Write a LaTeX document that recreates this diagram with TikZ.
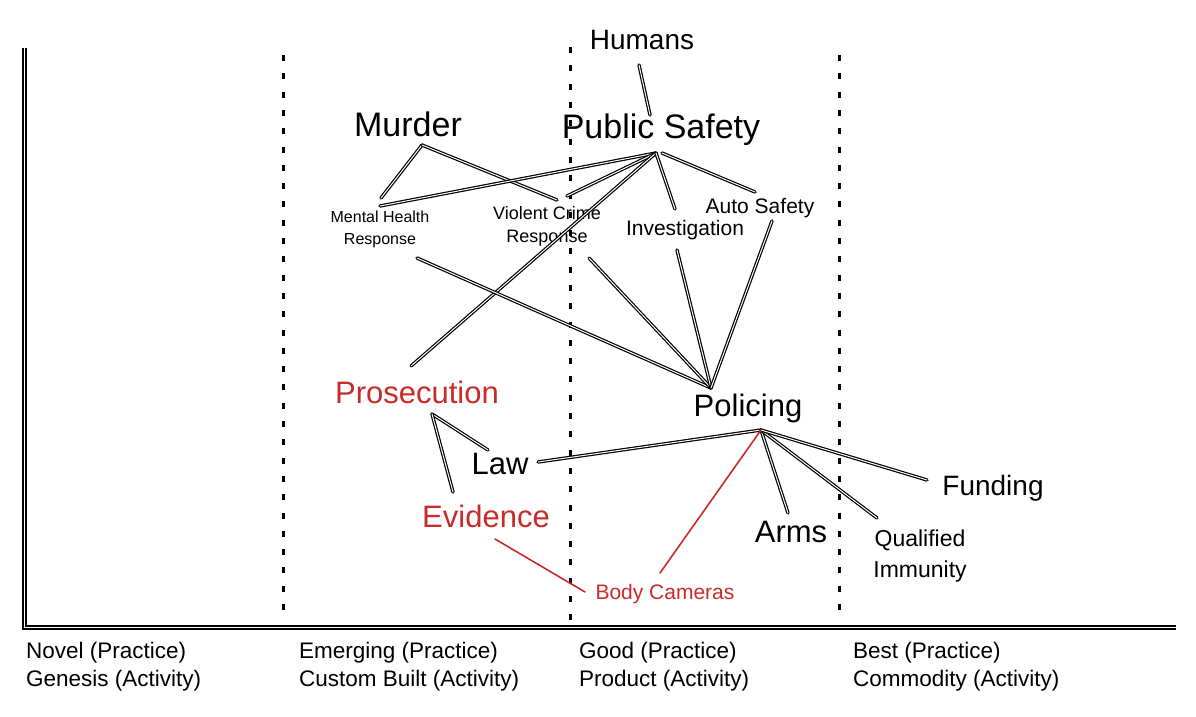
\documentclass[tikz,border=0pt]{standalone}
\usepackage{fontspec}
\setmainfont{Liberation Sans}
\definecolor{exred}{HTML}{C92A2A}
\tikzset{
  lbl/.style={inner sep=0pt, text=black},
  rlbl/.style={inner sep=0pt, text=exred},
  link/.style={draw=black, double=white, double distance=1.0pt, line width=1.2pt, line cap=round},
  rlink/.style={draw=exred, line width=1.6pt, line cap=round},
  gridline/.style={line width=3pt, dash pattern=on 6pt off 12.3pt},
  axisline/.style={draw=black, double=white, double distance=1.4pt, line width=1.4pt},
  szA/.style={font=\fontsize{34}{40}\selectfont},
  szB/.style={font=\fontsize{31}{36}\selectfont},
  szC/.style={font=\fontsize{28}{32}\selectfont},
  szD/.style={font=\fontsize{21}{25}\selectfont},
  szE/.style={font=\fontsize{18}{23}\selectfont},
  szF/.style={font=\fontsize{16}{22}\selectfont},
  szQ/.style={font=\fontsize{23}{31}\selectfont},
  szX/.style={font=\fontsize{22.5}{28}\selectfont},
}
\begin{document}
\begin{tikzpicture}[x=1pt,y=-1pt]
\useasboundingbox (0,0) rectangle (1196,716);
% axes
\coordinate (axTop) at (24.5,48);
\coordinate (axOrig) at (24.5,627.5);
\coordinate (axRight) at (1176,627.5);
\draw[axisline] (axTop) -- (axOrig) -- (axRight);
% evolution separators
\coordinate (g1t) at (283,55);  \coordinate (g1b) at (283,620);
\coordinate (g2t) at (570,47);  \coordinate (g2b) at (570,620);
\coordinate (g3t) at (839,55);  \coordinate (g3b) at (839,620);
\draw[gridline] (g1t) -- (g1b);
\draw[gridline] (g2t) -- (g2b);
\draw[gridline] (g3t) -- (g3b);

% nodes
\node[lbl,szC] (hum) at (642,40) {Humans};
\node[lbl,szA] (ps) at (661,130) {Public Safety};
\node[lbl,szA] (mur) at (408,124) {Murder};
\node[lbl,szF,align=center] (mh) at (380,229) {Mental Health\\Response};
\node[lbl,szE,align=center] (vc) at (547,226) {Violent Crime\\Response};
\node[lbl,szD] (inv) at (685,230) {Investigation};
\node[lbl,szD] (auto) at (760,208) {Auto Safety};
\node[rlbl,szB] (pros) at (417,392) {Prosecution};
\node[lbl,szB] (pol) at (748,408) {Policing};
\node[lbl,szB] (law) at (500,464) {Law};
\node[rlbl,szB] (evid) at (486,516) {Evidence};
\node[lbl,szB] (arms) at (791,532) {Arms};
\node[lbl,szC] (fund) at (993,488) {Funding};
\node[lbl,szQ,align=center] (qi) at (920,556) {Qualified\\Immunity};
\node[rlbl,szD] (bc) at (665,594) {Body Cameras};

% axis labels
\node[lbl,szX,anchor=north west,align=left] (ev1) at (26,642) {Novel (Practice)\\Genesis (Activity)};
\node[lbl,szX,anchor=north west,align=left] (ev2) at (299,642) {Emerging (Practice)\\Custom Built (Activity)};
\node[lbl,szX,anchor=north west,align=left] (ev3) at (579,642) {Good (Practice)\\Product (Activity)};
\node[lbl,szX,anchor=north west,align=left] (ev4) at (853,642) {Best (Practice)\\Commodity (Activity)};

% connector end points
\coordinate (humB) at (639,65);
\coordinate (psT) at (650,115);
\coordinate (psH) at (656,153);
\coordinate (murB) at (422,145);
\coordinate (mhT) at (381,198);
\coordinate (mhT2) at (380,206);
\coordinate (mhB) at (417,258);
\coordinate (vcT) at (557,200);
\coordinate (vcT2) at (567,196);
\coordinate (vcB) at (589,258);
\coordinate (invT) at (675,209);
\coordinate (invB) at (677,250);
\coordinate (autoT) at (755,192);
\coordinate (autoB) at (772,221);
\coordinate (prosT) at (411,366);
\coordinate (prosB) at (432,414);
\coordinate (polT) at (711,388);
\coordinate (polB) at (761,430);
\coordinate (lawT) at (488,450);
\coordinate (lawR) at (538,462);
\coordinate (evidT) at (453,492);
\coordinate (evidB) at (495,539);
\coordinate (armsT) at (788,513);
\coordinate (qiT) at (877,518);
\coordinate (fundL) at (927,480);
\coordinate (bcL) at (585,592);
\coordinate (bcT) at (660,573);

% connectors
\draw[link] (humB) -- (psT);
\draw[link] (murB) -- (mhT);
\draw[link] (murB) -- (vcT);
\draw[link] (psH) -- (mhT2);
\draw[link] (psH) -- (vcT2);
\draw[link] (psH) -- (prosT);
\draw[link] (psH) -- (invT);
\draw[link] ([xshift=6pt]psH) -- (autoT);
\draw[link] (mhB) -- (polT);
\draw[link] (vcB) -- (polT);
\draw[link] (invB) -- (polT);
\draw[link] (autoB) -- (polT);
\draw[link] (prosB) -- (lawT);
\draw[link] (prosB) -- (evidT);
\draw[link] (lawR) -- (polB);
\draw[link] (polB) -- (armsT);
\draw[link] (polB) -- (qiT);
\draw[link] (polB) -- (fundL);
\draw[rlink] (polB) -- (bcT);
\draw[rlink] (evidB) -- (bcL);
\end{tikzpicture}
\end{document}
